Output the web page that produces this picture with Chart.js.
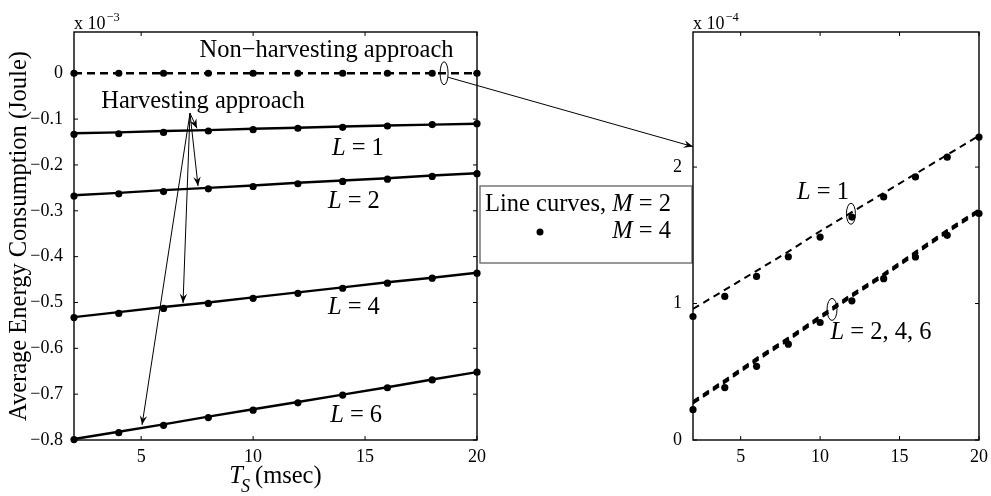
<!DOCTYPE html>
<html>
<head>
<meta charset="utf-8">
<script src="https://cdn.jsdelivr.net/npm/chart.js@4.4.1/dist/chart.umd.min.js"></script>
<style>
  html, body { margin: 0; padding: 0; background: #fff; }
  #wrap { position: relative; width: 991px; height: 496px; }
  #wrap canvas { position: absolute; left: 0; top: 0; }
</style>
</head>
<body>
<div id="wrap">
  <canvas id="leftChart" width="991" height="496"></canvas>
  <canvas id="rightChart" width="991" height="496"></canvas>
</div>
<script>
/* data */
const tsValues = [2, 4, 6, 8, 10, 12, 14, 16, 18, 20];
const xTicks = [5, 10, 15, 20];
const leftYTicks = [0, -0.1, -0.2, -0.3, -0.4, -0.5, -0.6, -0.7, -0.8];
const rightYTicks = [0, 1, 2];

// left panel (x 10^-3 Joule), lines = M=2, dots = M=4
const nonHarvestLine = [0, 0, 0, 0, 0, 0, 0, 0, 0, 0];
const nonHarvestDots = [0, 0, 0, 0, 0, 0, 0, 0, 0, 0];
const l1Line = [-0.131, -0.129, -0.126, -0.124, -0.121, -0.119, -0.116, -0.114, -0.112, -0.110];
const l1Dots = [-0.133, -0.132, -0.129, -0.126, -0.123, -0.120, -0.118, -0.115, -0.112, -0.110];
const l2Line = [-0.266, -0.261, -0.255, -0.250, -0.245, -0.239, -0.234, -0.229, -0.223, -0.218];
const l2Dots = [-0.268, -0.263, -0.258, -0.252, -0.247, -0.241, -0.236, -0.231, -0.225, -0.219];
const l4Line = [-0.532, -0.521, -0.510, -0.500, -0.489, -0.478, -0.467, -0.456, -0.446, -0.435];
const l4Dots = [-0.533, -0.524, -0.513, -0.502, -0.491, -0.480, -0.469, -0.458, -0.447, -0.436];
const l6Line = [-0.798, -0.782, -0.766, -0.749, -0.733, -0.717, -0.701, -0.685, -0.668, -0.652];
const l6Dots = [-0.799, -0.784, -0.768, -0.751, -0.735, -0.719, -0.702, -0.686, -0.669, -0.652];

// right panel (x 10^-4 Joule), zoom of the non-harvesting curves
const zL1Line = [0.96, 1.10, 1.24, 1.38, 1.53, 1.67, 1.81, 1.95, 2.09, 2.23];
const zL1Dots = [0.905, 1.052, 1.199, 1.343, 1.487, 1.634, 1.781, 1.928, 2.073, 2.22];
const zL2Line = [0.285, 0.44, 0.60, 0.75, 0.91, 1.07, 1.22, 1.38, 1.54, 1.69];
const zL4Line = [0.276, 0.43, 0.59, 0.74, 0.90, 1.06, 1.21, 1.37, 1.53, 1.68];
const zL6Line = [0.268, 0.42, 0.58, 0.73, 0.89, 1.05, 1.20, 1.36, 1.52, 1.67];
const zL246Dots = [0.222, 0.384, 0.54, 0.702, 0.861, 1.02, 1.182, 1.341, 1.50, 1.66];

/* annotations, in data units */
const leftLabels = [
  { parts: [['Non\u2212harvesting approach', false]], x: 13.28, y: 0.049 },
  { parts: [['Harvesting approach', false]], x: 7.76, y: -0.062 },
  { parts: [['L', true], [' = 1', false]], x: 14.68, y: -0.164 },
  { parts: [['L', true], [' = 2', false]], x: 14.5, y: -0.279 },
  { parts: [['L', true], [' = 4', false]], x: 14.5, y: -0.512 },
  { parts: [['L', true], [' = 6', false]], x: 14.6, y: -0.746 }
];
const leftArrowFrom = { x: 7.18, y: -0.087 };
const leftArrowTo = [
  { x: 7.49, y: -0.120 },
  { x: 7.54, y: -0.246 },
  { x: 6.87, y: -0.501 },
  { x: 5.04, y: -0.767 }
];
const leftEllipse = { x: 18.53, y: 0, rx: 4, ry: 11.5 };
const rightLabels = [
  { parts: [['L', true], [' = 1', false]], x: 10.18, y: 1.816 },
  { parts: [['L', true], [' = 2, 4, 6', false]], x: 13.83, y: 0.788 }
];
const rightEllipses = [
  { x: 11.94, y: 1.658, rx: 4.5, ry: 10.5 },
  { x: 10.75, y: 0.957, rx: 5, ry: 11 }
];
const zoomArrowTarget = { x: 2, y: 2.15 };

const SERIF = '"Liberation Serif", "Times New Roman", serif';
const tickFont = { family: SERIF, size: 18 };
const noteSize = 24.5;

function pts(ys) {
  return ys.map((y, i) => ({ x: tsValues[i], y: y }));
}

function minus(v) {
  return v < 0 ? '\u2212' + Math.abs(v) : String(v);
}

function lineSet(ys, dash, width) {
  return {
    data: pts(ys), showLine: true, borderColor: '#000', borderWidth: width || 2.4,
    borderDash: dash || [], pointRadius: 0, fill: false, tension: 0
  };
}

function dotSet(ys) {
  return {
    data: pts(ys), showLine: false, pointRadius: 3.6, pointBackgroundColor: '#000',
    pointBorderWidth: 0, clip: false
  };
}

function setFont(ctx, size, italic) {
  ctx.font = (italic ? 'italic ' : '') + size + 'px ' + SERIF;
}

// draws mixed upright / italic text, centred on cx
function drawParts(ctx, parts, cx, cy, size) {
  let w = 0;
  parts.forEach(p => { setFont(ctx, size, p[1]); w += ctx.measureText(p[0]).width; });
  let x = cx - w / 2;
  ctx.textAlign = 'left';
  parts.forEach(p => {
    setFont(ctx, size, p[1]);
    ctx.fillText(p[0], x, cy);
    x += ctx.measureText(p[0]).width;
  });
}

function drawArrow(ctx, x1, y1, x2, y2) {
  const a = Math.atan2(y2 - y1, x2 - x1);
  const len = 10, spread = 0.38;
  ctx.beginPath();
  ctx.moveTo(x1, y1);
  ctx.lineTo(x2, y2);
  ctx.stroke();
  ctx.beginPath();
  ctx.moveTo(x2, y2);
  ctx.lineTo(x2 - len * Math.cos(a - spread), y2 - len * Math.sin(a - spread));
  ctx.lineTo(x2 - len * 0.6 * Math.cos(a), y2 - len * 0.6 * Math.sin(a));
  ctx.lineTo(x2 - len * Math.cos(a + spread), y2 - len * Math.sin(a + spread));
  ctx.closePath();
  ctx.fill();
}

function drawExponent(ctx, area, exp) {
  ctx.textBaseline = 'alphabetic';
  ctx.textAlign = 'left';
  setFont(ctx, 18, false);
  ctx.fillText('x 10', area.left, area.top - 3);
  const w = ctx.measureText('x 10').width;
  setFont(ctx, 12.5, false);
  ctx.fillText(exp, area.left + w + 1, area.top - 11);
}

// box with inward ticks on all four sides, like matlab
const framePlugin = {
  id: 'frame',
  afterDatasetsDraw(chart) {
    const ctx = chart.ctx;
    const a = chart.chartArea;
    const xs = chart.scales.x, ys = chart.scales.y;
    ctx.save();
    ctx.strokeStyle = '#000';
    ctx.lineWidth = 1.4;
    ctx.strokeRect(a.left, a.top, a.right - a.left, a.bottom - a.top);
    ctx.lineWidth = 1;
    ctx.beginPath();
    xs.ticks.forEach(t => {
      const px = xs.getPixelForValue(t.value);
      ctx.moveTo(px, a.bottom); ctx.lineTo(px, a.bottom - 4);
      ctx.moveTo(px, a.top); ctx.lineTo(px, a.top + 4);
    });
    ys.ticks.forEach(t => {
      const py = ys.getPixelForValue(t.value);
      ctx.moveTo(a.left, py); ctx.lineTo(a.left + 4, py);
      ctx.moveTo(a.right, py); ctx.lineTo(a.right - 4, py);
    });
    ctx.stroke();
    ctx.restore();
  }
};

const leftNotes = {
  id: 'leftNotes',
  afterDraw(chart) {
    const ctx = chart.ctx;
    const a = chart.chartArea;
    const xs = chart.scales.x, ys = chart.scales.y;
    ctx.save();
    ctx.fillStyle = '#000';
    ctx.strokeStyle = '#000';
    ctx.textBaseline = 'middle';
    leftLabels.forEach(l => drawParts(ctx, l.parts, xs.getPixelForValue(l.x), ys.getPixelForValue(l.y), noteSize));

    ctx.lineWidth = 1;
    const fx = xs.getPixelForValue(leftArrowFrom.x), fy = ys.getPixelForValue(leftArrowFrom.y);
    leftArrowTo.forEach(t => drawArrow(ctx, fx, fy, xs.getPixelForValue(t.x), ys.getPixelForValue(t.y)));

    ctx.beginPath();
    ctx.ellipse(xs.getPixelForValue(leftEllipse.x), ys.getPixelForValue(leftEllipse.y), leftEllipse.rx, leftEllipse.ry, 0, 0, Math.PI * 2);
    ctx.stroke();

    drawExponent(ctx, a, '\u22123');

    // x axis title: T_S (msec)
    const cx = (a.left + a.right) / 2, base = 483;
    setFont(ctx, noteSize, true);
    const wT = ctx.measureText('T').width;
    setFont(ctx, 18, true);
    const wS = ctx.measureText('S').width;
    setFont(ctx, noteSize, false);
    const wM = ctx.measureText('(msec)').width;
    let x = cx - (wT + wS + 3 + wM) / 2;
    ctx.textBaseline = 'alphabetic';
    ctx.textAlign = 'left';
    setFont(ctx, noteSize, true);
    ctx.fillText('T', x, base);
    x += wT - 2;
    setFont(ctx, 18, true);
    ctx.fillText('S', x, base + 9);
    x += wS + 5;
    setFont(ctx, noteSize, false);
    ctx.fillText('(msec)', x, base);

    // legend
    const lx = a.right + 3, ly = 186, lw = 212, lh = 77;
    ctx.fillStyle = '#fff';
    ctx.fillRect(lx, ly, lw, lh);
    ctx.strokeStyle = '#777';
    ctx.lineWidth = 1.5;
    ctx.strokeRect(lx, ly, lw, lh);
    ctx.fillStyle = '#000';
    let tx = lx + 5;
    [['Line curves, ', false], ['M', true], [' = 2', false]].forEach(p => {
      setFont(ctx, noteSize, p[1]);
      ctx.fillText(p[0], tx, ly + 25);
      tx += ctx.measureText(p[0]).width;
    });
    const right = tx;
    setFont(ctx, noteSize, false);
    const w4 = ctx.measureText(' = 4').width;
    setFont(ctx, noteSize, true);
    const wMi = ctx.measureText('M').width;
    ctx.fillText('M', right - w4 - wMi, ly + 52);
    setFont(ctx, noteSize, false);
    ctx.fillText(' = 4', right - w4, ly + 52);
    ctx.beginPath();
    ctx.arc(lx + 60, ly + 46, 3.5, 0, Math.PI * 2);
    ctx.fill();
    ctx.restore();
  }
};

const rightNotes = {
  id: 'rightNotes',
  afterDraw(chart) {
    const ctx = chart.ctx;
    const a = chart.chartArea;
    const xs = chart.scales.x, ys = chart.scales.y;
    ctx.save();
    ctx.fillStyle = '#000';
    ctx.strokeStyle = '#000';
    ctx.textBaseline = 'middle';
    rightLabels.forEach(l => drawParts(ctx, l.parts, xs.getPixelForValue(l.x), ys.getPixelForValue(l.y), noteSize));
    ctx.lineWidth = 1;
    rightEllipses.forEach(e => {
      ctx.beginPath();
      ctx.ellipse(xs.getPixelForValue(e.x), ys.getPixelForValue(e.y), e.rx, e.ry, 0, 0, Math.PI * 2);
      ctx.stroke();
    });
    drawExponent(ctx, a, '\u22124');

    // arrow from the ellipse in the left panel to the zoomed panel
    const lc = Chart.getChart('leftChart');
    if (lc) {
      const sx = lc.scales.x.getPixelForValue(leftEllipse.x) + leftEllipse.rx;
      const sy = lc.scales.y.getPixelForValue(leftEllipse.y) + 4;
      drawArrow(ctx, sx, sy, xs.getPixelForValue(zoomArrowTarget.x), ys.getPixelForValue(zoomArrowTarget.y));
    }
    ctx.restore();
  }
};

function axes(yMin, yMax, yTicks, yWidth, yTitle) {
  return {
    x: {
      type: 'linear', min: 2, max: 20,
      grid: { display: false }, border: { display: false },
      afterBuildTicks: s => { s.ticks = xTicks.map(v => ({ value: v })); },
      afterFit: s => { s.height = 56; },
      ticks: { font: tickFont, color: '#000', padding: -2, autoSkip: false, maxRotation: 0, callback: v => String(v) }
    },
    y: {
      type: 'linear', min: yMin, max: yMax,
      grid: { display: false }, border: { display: false },
      afterBuildTicks: s => { s.ticks = yTicks.map(v => ({ value: v })); },
      afterFit: s => { s.width = yWidth; },
      title: yTitle ? {
        display: true, text: yTitle, color: '#000',
        font: { family: SERIF, size: noteSize }, padding: { top: 5, bottom: 0 }
      } : { display: false },
      ticks: { font: tickFont, color: '#000', padding: 3, autoSkip: false, callback: v => minus(v) }
    }
  };
}

const common = {
  responsive: false,
  animation: false,
  events: [],
  plugins: { legend: { display: false }, tooltip: { enabled: false } }
};

new Chart(document.getElementById('leftChart'), {
  type: 'scatter',
  data: {
    datasets: [
      lineSet(nonHarvestLine, [8, 5]),
      lineSet(l1Line), lineSet(l2Line), lineSet(l4Line), lineSet(l6Line),
      dotSet(nonHarvestDots), dotSet(l1Dots), dotSet(l2Dots), dotSet(l4Dots), dotSet(l6Dots)
    ]
  },
  options: Object.assign({}, common, {
    layout: { padding: { left: 0, top: 32, right: 514, bottom: 0 } },
    scales: axes(-0.8, 0.09, leftYTicks, 74, 'Average Energy Consumption (Joule)')
  }),
  plugins: [framePlugin, leftNotes]
});

new Chart(document.getElementById('rightChart'), {
  type: 'scatter',
  data: {
    datasets: [
      lineSet(zL1Line, [7, 5], 2),
      lineSet(zL2Line, [7, 5], 2), lineSet(zL4Line, [7, 5], 2.2), lineSet(zL6Line, [7, 5], 2),
      dotSet(zL1Dots), dotSet(zL246Dots)
    ]
  },
  options: Object.assign({}, common, {
    layout: { padding: { left: 673, top: 32, right: 12, bottom: 0 } },
    scales: axes(0, 2.99, rightYTicks, 20, null)
  }),
  plugins: [framePlugin, rightNotes]
});
</script>
</body>
</html>
